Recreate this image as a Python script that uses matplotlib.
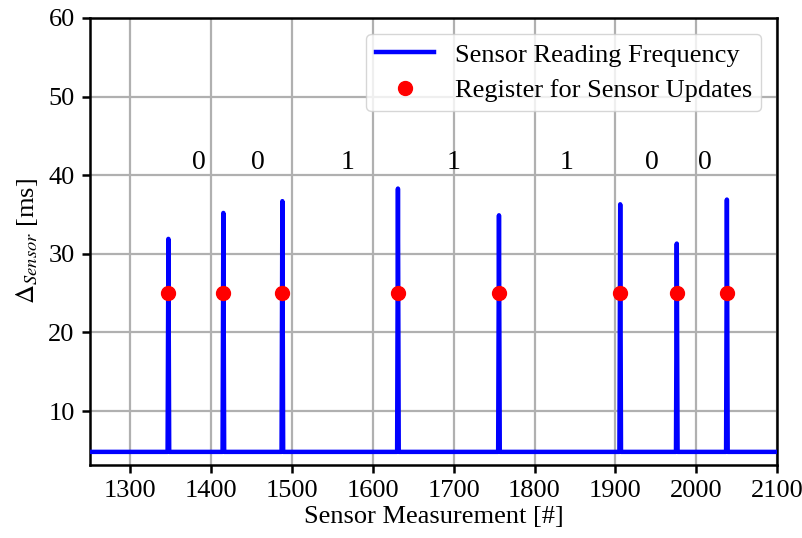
import numpy as np
import matplotlib
matplotlib.use("Agg")
import matplotlib.pyplot as plt

# Measurement indices where the sensor reading interval spikes
spike_x = [1347, 1415, 1488, 1631, 1756, 1906, 1976, 2038]
# Peak interval (ms) at each spike
spike_peak = [31.9, 35.2, 36.7, 38.3, 34.9, 36.3, 31.3, 36.9]
# Regular reading interval (ms)
baseline_ms = 4.8
# Level at which a sensor-update registration is marked
register_level = [25, 25, 25, 25, 25, 25, 25, 25]

# Bit labels between consecutive registrations
bit_x = [1385, 1458, 1569, 1700, 1839, 1945, 2011]
bit_labels = ["0", "0", "1", "1", "1", "0", "0"]
bit_y = 41.6

x_start, x_end = 1240, 2110

plt.rcParams["font.family"] = ["Liberation Serif", "DejaVu Serif"]
plt.rcParams["mathtext.fontset"] = "stix"

# Build the reading-interval trace: constant baseline with single-sample spikes
xs = np.arange(x_start, x_end + 1)
ys = np.full(xs.shape, baseline_ms, dtype=float)
for sx, sp in zip(spike_x, spike_peak):
    ys[xs == sx] = sp

fig = plt.figure(figsize=(8.03, 5.38), dpi=100)
ax = fig.add_axes([90 / 803, 1 - 465 / 538, (777 - 90) / 803, (465 - 18) / 538])

ax.plot(xs, ys, color="blue", lw=3.2, label="Sensor Reading Frequency", zorder=3)
ax.plot(spike_x, register_level, "o", color="red", ms=10,
        label="Register for Sensor Updates", zorder=4)

for bx, bl in zip(bit_x, bit_labels):
    ax.text(bx, bit_y, bl, ha="center", va="center", fontsize=20)

ax.set_xlim(1250, 2100)
ax.set_ylim(3.13, 60)
ax.set_xticks(np.arange(1300, 2101, 100))
ax.set_yticks(np.arange(10, 61, 10))
ax.grid(True, color="#b0b0b0", lw=1.6)
ax.set_axisbelow(True)

for s in ax.spines.values():
    s.set_linewidth(1.8)
ax.tick_params(labelsize=19, width=1.8, length=6, pad=5)

ax.set_xlabel("Sensor Measurement [#]", fontsize=19, labelpad=3)
ax.set_ylabel(r"$\Delta_{Sensor}$ [ms]", fontsize=19, labelpad=6)

ax.legend(loc="upper right", fontsize=19, framealpha=0.8, handlelength=2.2,
          borderpad=0.35, labelspacing=0.45, handletextpad=0.8,
          borderaxespad=0.6)

fig.savefig("out.png", dpi=100)
